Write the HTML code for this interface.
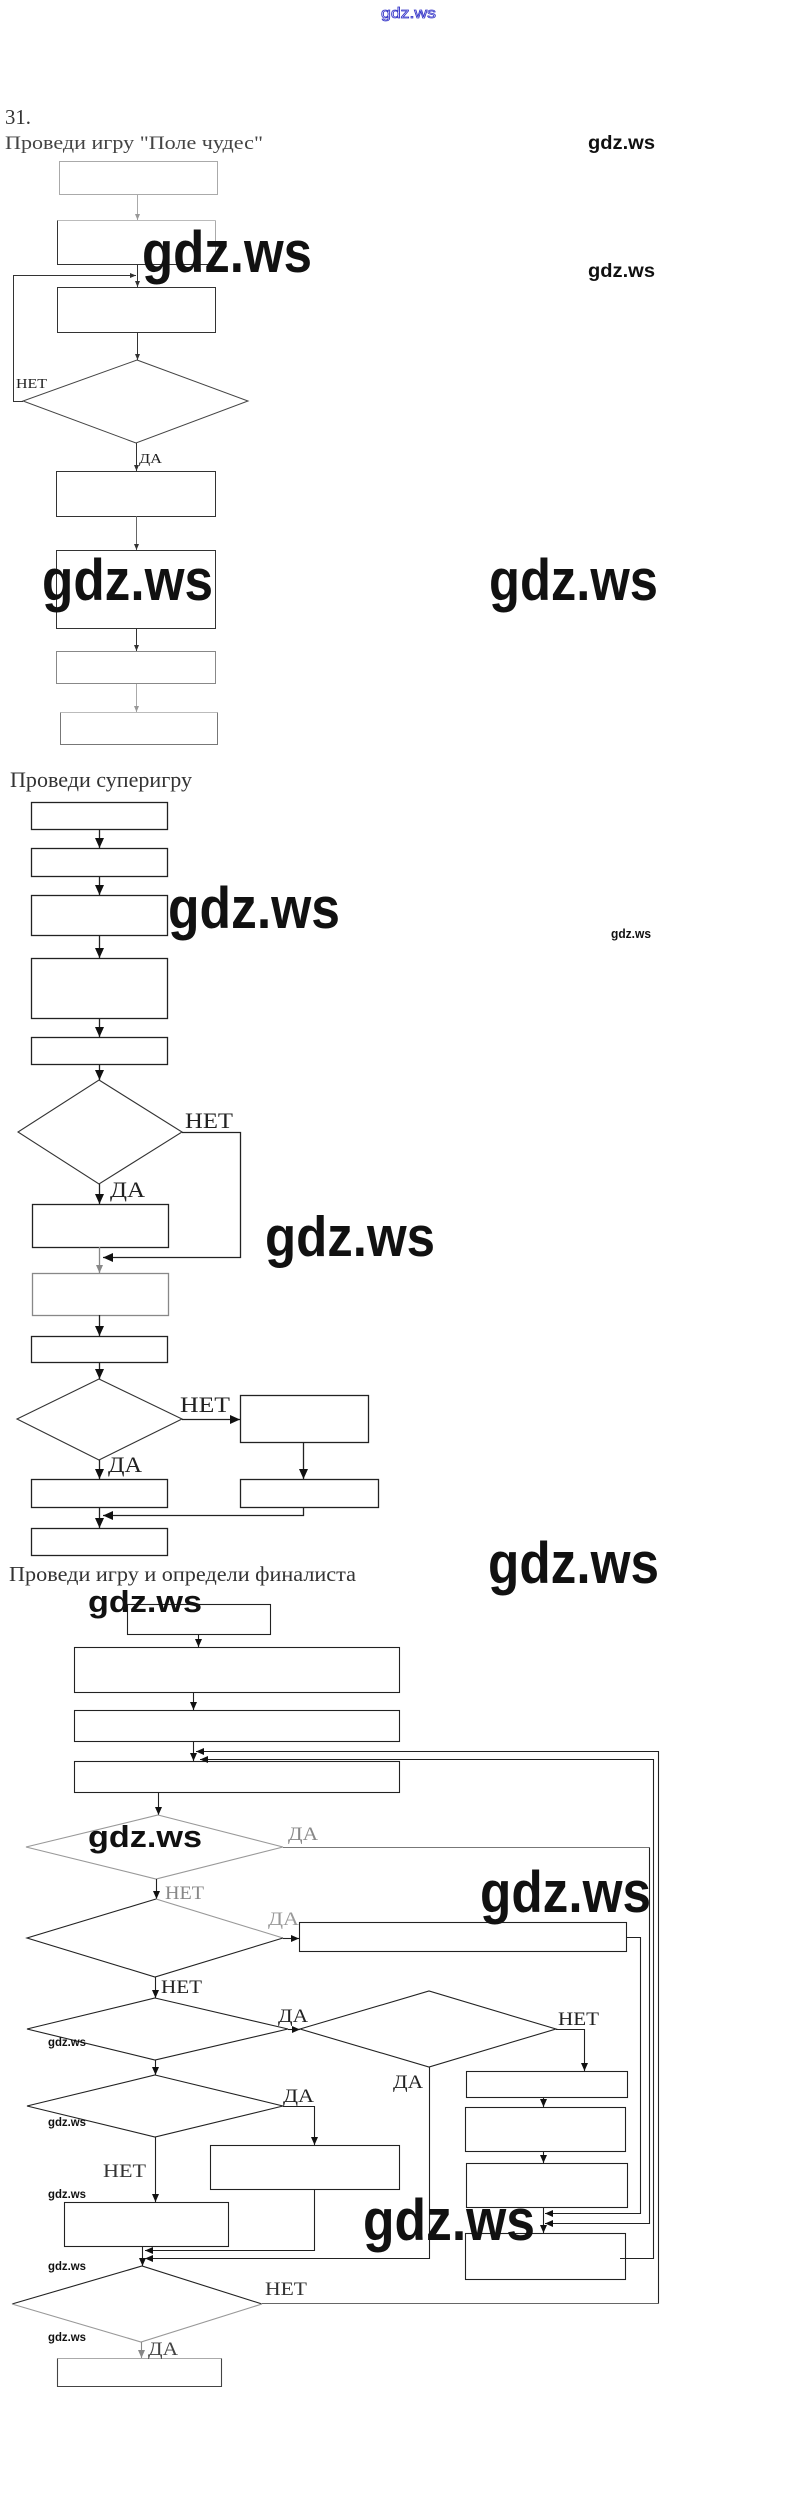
<!DOCTYPE html>
<html><head><meta charset="utf-8"><style>
html,body{margin:0;padding:0;background:#fff;}
svg{display:block;}
.s{font-family:"Liberation Serif","Noto Serif CJK SC",serif;}
.w{font-family:"Liberation Sans",sans-serif;font-weight:bold;fill:#111;}
</style></head><body>
<svg width="811" height="2499" viewBox="0 0 811 2499" xmlns="http://www.w3.org/2000/svg">
<defs>
<marker id="m1" markerUnits="userSpaceOnUse" markerWidth="6" markerHeight="6" refX="6" refY="3" orient="auto"><path d="M0,0.5 L6,3 L0,5.5z" fill="#333"/></marker>
<marker id="m1f" markerUnits="userSpaceOnUse" markerWidth="6" markerHeight="6" refX="6" refY="3" orient="auto"><path d="M0,0.5 L6,3 L0,5.5z" fill="#999"/></marker>
<marker id="m2" markerUnits="userSpaceOnUse" markerWidth="10" markerHeight="9" refX="10" refY="4.5" orient="auto"><path d="M0,0 L10,4.5 L0,9z" fill="#111"/></marker>
<marker id="m3" markerUnits="userSpaceOnUse" markerWidth="8" markerHeight="7" refX="8" refY="3.5" orient="auto"><path d="M0,0 L8,3.5 L0,7z" fill="#111"/></marker>
<marker id="m3f" markerUnits="userSpaceOnUse" markerWidth="8" markerHeight="7" refX="8" refY="3.5" orient="auto"><path d="M0,0 L8,3.5 L0,7z" fill="#888"/></marker>
</defs>
<rect width="811" height="2499" fill="#fff"/>

<!-- top blue watermark -->
<text x="381" y="18" font-family="Liberation Sans, sans-serif" font-size="15" fill="none" stroke="#3535c8" stroke-width="0.8" textLength="55" lengthAdjust="spacingAndGlyphs">gdz.ws</text>

<!-- SECTION 1 -->
<text class="s" x="5" y="124" font-size="21" fill="#333" textLength="26" lengthAdjust="spacingAndGlyphs">31.</text>
<text class="s" x="5" y="149" font-size="19" fill="#444" textLength="258" lengthAdjust="spacingAndGlyphs">Проведи игру "Поле чудес"</text>

<g fill="none" stroke="#333" stroke-width="1">
<rect x="59.5" y="161.5" width="158" height="33" stroke="#aaa"/>
<line x1="137.5" y1="195" x2="137.5" y2="220" stroke="#aaa" marker-end="url(#m1f)"/>
<line x1="57.5" y1="220.5" x2="215.5" y2="220.5" stroke="#bbb"/>
<polyline points="57.5,220.5 57.5,264.5 215.5,264.5"/>
<line x1="215.5" y1="220.5" x2="215.5" y2="264.5" stroke="#aaa"/>
<line x1="137.5" y1="264" x2="137.5" y2="287" marker-end="url(#m1)"/>
<rect x="57.5" y="287.5" width="158" height="45"/>
<line x1="137.5" y1="332" x2="137.5" y2="360" marker-end="url(#m1)"/>
<polygon points="137,360 248,401 136,443 23,401" stroke="#444"/>
<polyline points="23,401.5 13.5,401.5 13.5,275.5 136,275.5" marker-end="url(#m1)"/>
<line x1="136.5" y1="443" x2="136.5" y2="471" marker-end="url(#m1)"/>
<rect x="56.5" y="471.5" width="159" height="45"/>
<line x1="136.5" y1="516" x2="136.5" y2="550" stroke="#666" marker-end="url(#m1)"/>
<rect x="56.5" y="550.5" width="159" height="78"/>
<line x1="136.5" y1="628" x2="136.5" y2="651" marker-end="url(#m1)"/>
<rect x="56.5" y="651.5" width="159" height="32" stroke="#888"/>
<line x1="136.5" y1="684" x2="136.5" y2="712" stroke="#aaa" marker-end="url(#m1f)"/>
<line x1="60.5" y1="712.5" x2="217.5" y2="712.5" stroke="#bbb"/>
<polyline points="60.5,712.5 60.5,744.5 217.5,744.5 217.5,712.5" stroke="#777"/>
</g>
<text class="s" x="16" y="388" font-size="14" fill="#222" textLength="31" lengthAdjust="spacingAndGlyphs">НЕТ</text>
<text class="s" x="139" y="463" font-size="14" fill="#222" textLength="23" lengthAdjust="spacingAndGlyphs">ДА</text>

<!-- SECTION 2 -->
<text class="s" x="10" y="787" font-size="22" fill="#333" textLength="182" lengthAdjust="spacingAndGlyphs">Проведи суперигру</text>
<g fill="none" stroke="#222" stroke-width="1.3">
<rect x="31.5" y="802.5" width="136" height="27"/>
<line x1="99.5" y1="829" x2="99.5" y2="848" marker-end="url(#m2)"/>
<rect x="31.5" y="848.5" width="136" height="28"/>
<line x1="99.5" y1="876" x2="99.5" y2="895" marker-end="url(#m2)"/>
<rect x="31.5" y="895.5" width="136" height="40"/>
<line x1="99.5" y1="935" x2="99.5" y2="958" marker-end="url(#m2)"/>
<rect x="31.5" y="958.5" width="136" height="60"/>
<line x1="99.5" y1="1018" x2="99.5" y2="1037" marker-end="url(#m2)"/>
<rect x="31.5" y="1037.5" width="136" height="27"/>
<line x1="99.5" y1="1064" x2="99.5" y2="1080" marker-end="url(#m2)"/>
<polygon points="99,1080 182,1132 99,1184 18,1132" stroke="#333" stroke-width="1.1"/>
<polyline points="182,1132.5 240.5,1132.5 240.5,1257.5 103,1257.5" marker-end="url(#m2)"/>
<line x1="99.5" y1="1184" x2="99.5" y2="1204" marker-end="url(#m2)"/>
<rect x="32.5" y="1204.5" width="136" height="43"/>
<line x1="99.5" y1="1247" x2="99.5" y2="1273" stroke="#888" marker-end="url(#m3f)"/>
<rect x="32.5" y="1273.5" width="136" height="42" stroke="#888"/>
<line x1="99.5" y1="1315" x2="99.5" y2="1336" marker-end="url(#m2)"/>
<rect x="31.5" y="1336.5" width="136" height="26"/>
<line x1="99.5" y1="1362" x2="99.5" y2="1379" marker-end="url(#m2)"/>
<polygon points="99,1379 182,1419 99,1460 17,1419" stroke="#333" stroke-width="1.1"/>
<line x1="182" y1="1419.5" x2="240" y2="1419.5" marker-end="url(#m2)"/>
<rect x="240.5" y="1395.5" width="128" height="47"/>
<line x1="303.5" y1="1442" x2="303.5" y2="1479" marker-end="url(#m2)"/>
<rect x="240.5" y="1479.5" width="138" height="28"/>
<line x1="99.5" y1="1460" x2="99.5" y2="1479" marker-end="url(#m2)"/>
<rect x="31.5" y="1479.5" width="136" height="28"/>
<polyline points="303.5,1507 303.5,1515.5 103,1515.5" marker-end="url(#m2)"/>
<line x1="99.5" y1="1507" x2="99.5" y2="1528" marker-end="url(#m2)"/>
<rect x="31.5" y="1528.5" width="136" height="27"/>
</g>
<text class="s" x="185" y="1128" font-size="22" fill="#222" textLength="48" lengthAdjust="spacingAndGlyphs">НЕТ</text>
<text class="s" x="110" y="1197" font-size="22" fill="#222" textLength="35" lengthAdjust="spacingAndGlyphs">ДА</text>
<text class="s" x="180" y="1412" font-size="22" fill="#222" textLength="50" lengthAdjust="spacingAndGlyphs">НЕТ</text>
<text class="s" x="108" y="1472" font-size="22" fill="#222" textLength="34" lengthAdjust="spacingAndGlyphs">ДА</text>

<!-- SECTION 3 -->
<text class="s" x="9" y="1581" font-size="21" fill="#333" textLength="347" lengthAdjust="spacingAndGlyphs">Проведи игру и определи финалиста</text>
<g fill="none" stroke="#222" stroke-width="1.1">
<rect x="127.5" y="1604.5" width="143" height="30"/>
<line x1="198.5" y1="1634" x2="198.5" y2="1647" marker-end="url(#m3)"/>
<rect x="74.5" y="1647.5" width="325" height="45"/>
<line x1="193.5" y1="1692" x2="193.5" y2="1710" marker-end="url(#m3)"/>
<rect x="74.5" y="1710.5" width="325" height="31"/>
<line x1="193.5" y1="1741" x2="193.5" y2="1761" marker-end="url(#m3)"/>
<rect x="74.5" y="1761.5" width="325" height="31"/>
<line x1="158.5" y1="1792" x2="158.5" y2="1815" marker-end="url(#m3)"/>
<polygon points="158,1815 283,1847 156,1879 26,1847" stroke="#999"/>
<line x1="156.5" y1="1879" x2="156.5" y2="1899" marker-end="url(#m3)"/>
<polyline points="156,1899 283,1938" stroke="#999"/>
<polyline points="283,1938 155,1977 27,1938 156,1899"/>
<line x1="283" y1="1938.5" x2="299" y2="1938.5" marker-end="url(#m3)"/>
<rect x="299.5" y="1922.5" width="327" height="29"/>
<line x1="155.5" y1="1977" x2="155.5" y2="1998" marker-end="url(#m3)"/>
<polygon points="155,1998 288,2029 155,2060 27,2029"/>
<line x1="288" y1="2029.5" x2="300" y2="2029.5" marker-end="url(#m3)"/>
<polygon points="300,2029 429,1991 556,2029 429,2067"/>
<polyline points="556,2029.5 584.5,2029.5 584.5,2071" marker-end="url(#m3)"/>
<rect x="466.5" y="2071.5" width="161" height="26"/>
<line x1="543.5" y1="2097" x2="543.5" y2="2107" marker-end="url(#m3)"/>
<rect x="465.5" y="2107.5" width="160" height="44"/>
<line x1="543.5" y1="2151" x2="543.5" y2="2163" marker-end="url(#m3)"/>
<rect x="466.5" y="2163.5" width="161" height="44"/>
<line x1="543.5" y1="2207" x2="543.5" y2="2233" marker-end="url(#m3)"/>
<rect x="465.5" y="2233.5" width="160" height="46"/>
<line x1="155.5" y1="2060" x2="155.5" y2="2075" marker-end="url(#m3)"/>
<polygon points="155,2075 283,2106 155,2137 27,2106"/>
<polyline points="283,2106.5 314.5,2106.5 314.5,2145" marker-end="url(#m3)"/>
<rect x="210.5" y="2145.5" width="189" height="44"/>
<line x1="155.5" y1="2137" x2="155.5" y2="2202" marker-end="url(#m3)"/>
<rect x="64.5" y="2202.5" width="164" height="44"/>
<polyline points="314.5,2189 314.5,2250.5 145,2250.5" marker-end="url(#m3)"/>
<polyline points="429.5,2067 429.5,2258.5 145,2258.5" marker-end="url(#m3)"/>
<line x1="142.5" y1="2246" x2="142.5" y2="2266" marker-end="url(#m3)"/>
<polyline points="12,2304 142,2266 262,2304"/>
<polyline points="262,2304 141,2342 12,2304" stroke="#999"/>
<line x1="141.5" y1="2342" x2="141.5" y2="2358" stroke="#888" marker-end="url(#m3f)"/>
<line x1="57.5" y1="2358.5" x2="221.5" y2="2358.5" stroke="#aaa"/>
<polyline points="57.5,2358.5 57.5,2386.5 221.5,2386.5 221.5,2358.5" stroke="#444"/>
<!-- right loops -->
<polyline points="626,1937.5 640.5,1937.5 640.5,2213.5 545,2213.5" marker-end="url(#m3)"/>
<polyline points="283,1847.5 649.5,1847.5" stroke="#777"/>
<polyline points="649.5,1847.5 649.5,2223.5 545,2223.5" marker-end="url(#m3)"/>
<polyline points="620,2258.5 653.5,2258.5 653.5,1759.5 200,1759.5" marker-end="url(#m3)"/>
<line x1="262" y1="2303.5" x2="658.5" y2="2303.5" stroke="#666"/>
<polyline points="658.5,2303.5 658.5,1751.5 196,1751.5" marker-end="url(#m3)"/>
</g>
<g class="s" font-size="19">
<text x="288" y="1840" fill="#888" textLength="30" lengthAdjust="spacingAndGlyphs">ДА</text>
<text x="165" y="1899" fill="#888" textLength="39" lengthAdjust="spacingAndGlyphs">НЕТ</text>
<text x="268" y="1925" fill="#999" textLength="31" lengthAdjust="spacingAndGlyphs">ДА</text>
<text x="161" y="1993" fill="#222" textLength="41" lengthAdjust="spacingAndGlyphs">НЕТ</text>
<text x="278" y="2022" fill="#222" textLength="30" lengthAdjust="spacingAndGlyphs">ДА</text>
<text x="558" y="2025" fill="#222" textLength="41" lengthAdjust="spacingAndGlyphs">НЕТ</text>
<text x="393" y="2088" fill="#222" textLength="30" lengthAdjust="spacingAndGlyphs">ДА</text>
<text x="283" y="2102" fill="#222" textLength="31" lengthAdjust="spacingAndGlyphs">ДА</text>
<text x="103" y="2177" fill="#333" textLength="43" lengthAdjust="spacingAndGlyphs">НЕТ</text>
<text x="265" y="2295" fill="#333" textLength="42" lengthAdjust="spacingAndGlyphs">НЕТ</text>
<text x="148" y="2355" fill="#444" textLength="30" lengthAdjust="spacingAndGlyphs">ДА</text>
</g>

<!-- WATERMARKS -->
<text class="w" x="588" y="149" font-size="19" textLength="67" lengthAdjust="spacingAndGlyphs">gdz.ws</text>
<text class="w" x="142" y="272" font-size="58" textLength="170" lengthAdjust="spacingAndGlyphs">gdz.ws</text>
<text class="w" x="588" y="277" font-size="19" textLength="67" lengthAdjust="spacingAndGlyphs">gdz.ws</text>
<text class="w" x="42" y="600" font-size="58" textLength="171" lengthAdjust="spacingAndGlyphs">gdz.ws</text>
<text class="w" x="489" y="600" font-size="58" textLength="169" lengthAdjust="spacingAndGlyphs">gdz.ws</text>
<text class="w" x="168" y="928" font-size="58" textLength="172" lengthAdjust="spacingAndGlyphs">gdz.ws</text>
<text class="w" x="611" y="938" font-size="13" textLength="40" lengthAdjust="spacingAndGlyphs">gdz.ws</text>
<text class="w" x="265" y="1256" font-size="57" textLength="170" lengthAdjust="spacingAndGlyphs">gdz.ws</text>
<text class="w" x="488" y="1583" font-size="58" textLength="171" lengthAdjust="spacingAndGlyphs">gdz.ws</text>
<text class="w" x="88" y="1612" font-size="31" textLength="114" lengthAdjust="spacingAndGlyphs">gdz.ws</text>
<text class="w" x="88" y="1847" font-size="31" textLength="114" lengthAdjust="spacingAndGlyphs">gdz.ws</text>
<text class="w" x="480" y="1912" font-size="58" textLength="171" lengthAdjust="spacingAndGlyphs">gdz.ws</text>
<text class="w" x="48" y="2046" font-size="12" textLength="38" lengthAdjust="spacingAndGlyphs">gdz.ws</text>
<text class="w" x="48" y="2126" font-size="12" textLength="38" lengthAdjust="spacingAndGlyphs">gdz.ws</text>
<text class="w" x="48" y="2198" font-size="12" textLength="38" lengthAdjust="spacingAndGlyphs">gdz.ws</text>
<text class="w" x="48" y="2270" font-size="12" textLength="38" lengthAdjust="spacingAndGlyphs">gdz.ws</text>
<text class="w" x="48" y="2341" font-size="12" textLength="38" lengthAdjust="spacingAndGlyphs">gdz.ws</text>
<text class="w" x="363" y="2240" font-size="58" textLength="172" lengthAdjust="spacingAndGlyphs">gdz.ws</text>
</svg>
</body></html>
